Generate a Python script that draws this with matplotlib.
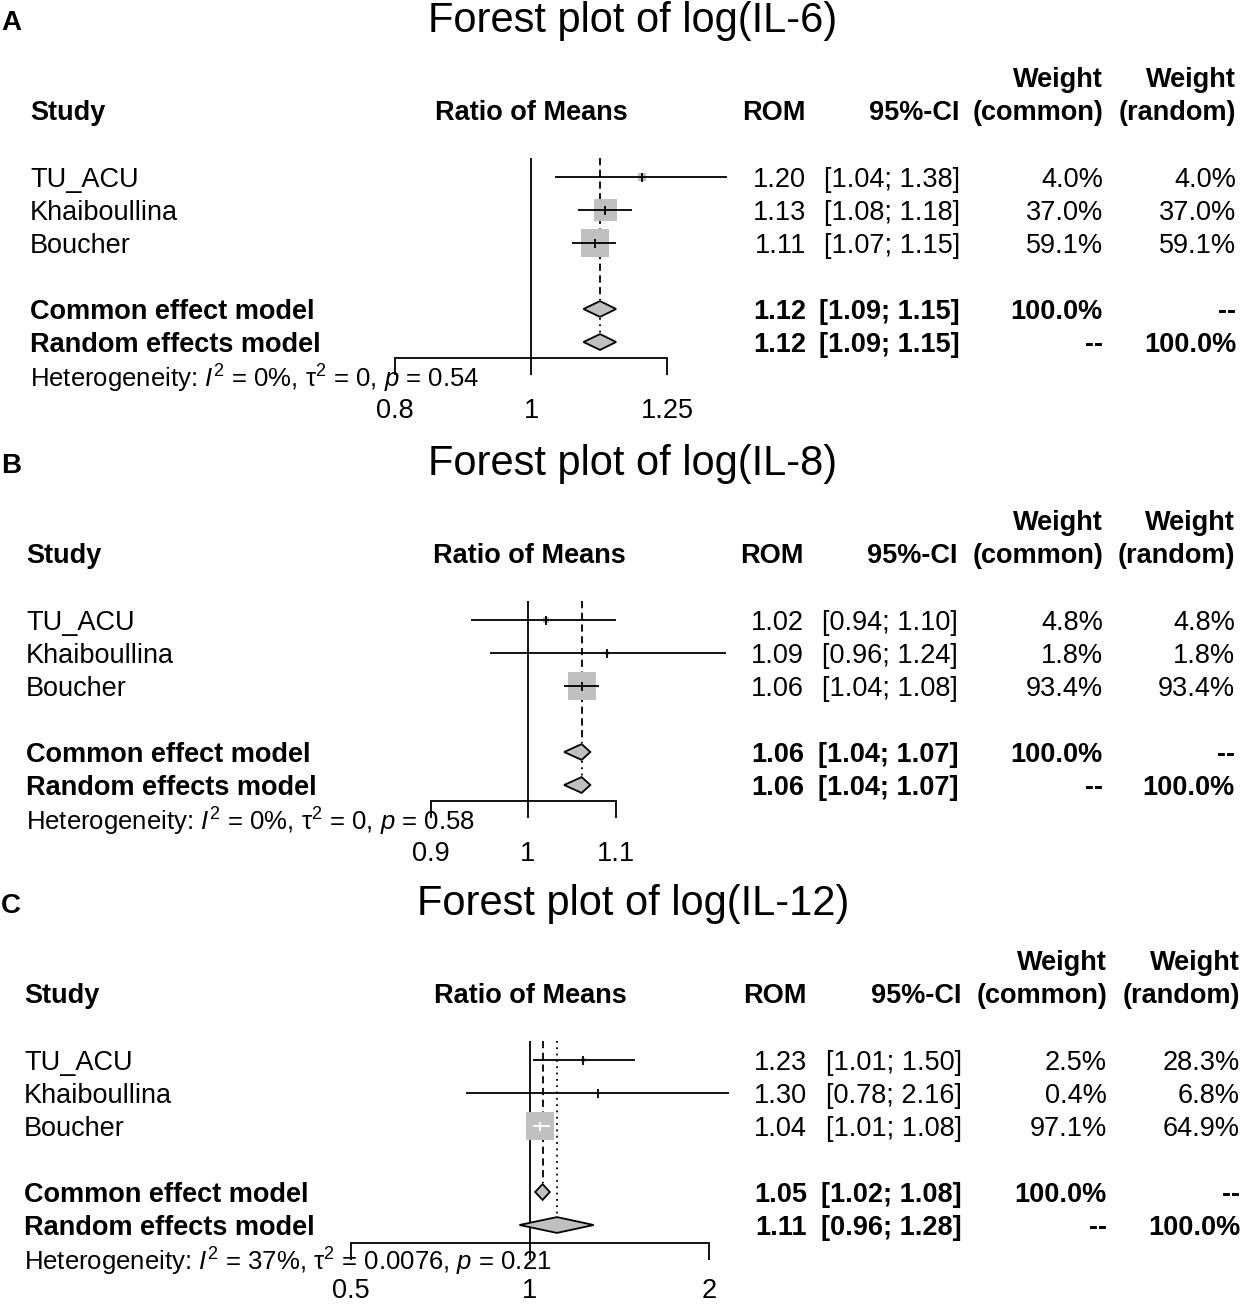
import numpy as np
import matplotlib.pyplot as plt
from matplotlib.patches import Polygon
from matplotlib.ticker import NullLocator

plt.rcParams['font.family'] = 'Liberation Sans'
plt.rcParams['mathtext.fontset'] = 'custom'
plt.rcParams['mathtext.rm'] = 'Liberation Sans'
plt.rcParams['mathtext.it'] = 'Liberation Sans:italic'
plt.rcParams['mathtext.bf'] = 'Liberation Sans:bold'

# ---- data ----
studies = ['TU_ACU', 'Khaiboullina', 'Boucher']

il6_rom = [1.20, 1.13, 1.11]
il6_lo = [1.04, 1.08, 1.07]
il6_hi = [1.38, 1.18, 1.15]
il6_wc = [4.0, 37.0, 59.1]
il6_wr = [4.0, 37.0, 59.1]
il6_common = [1.12, 1.09, 1.15]
il6_random = [1.12, 1.09, 1.15]
il6_het = ['0%', '0', '0.54']
il6_ticks = [0.8, 1, 1.25]

il8_rom = [1.02, 1.09, 1.06]
il8_lo = [0.94, 0.96, 1.04]
il8_hi = [1.10, 1.24, 1.08]
il8_wc = [4.8, 1.8, 93.4]
il8_wr = [4.8, 1.8, 93.4]
il8_common = [1.06, 1.04, 1.07]
il8_random = [1.06, 1.04, 1.07]
il8_het = ['0%', '0', '0.58']
il8_ticks = [0.9, 1, 1.1]

il12_rom = [1.23, 1.30, 1.04]
il12_lo = [1.01, 0.78, 1.01]
il12_hi = [1.50, 2.16, 1.08]
il12_wc = [2.5, 0.4, 97.1]
il12_wr = [28.3, 6.8, 64.9]
il12_common = [1.05, 1.02, 1.08]
il12_random = [1.11, 0.96, 1.28]
il12_het = ['37%', '0.0076', '0.21']
il12_ticks = [0.5, 1, 2]

# ---- layout (pixels) ----
W, H = 1241, 1305
PX = 0.72  # points per pixel at dpi 100
GREY = '#c0c0c0'
FS = 19.5
LW = 1.3

fig = plt.figure(figsize=(W / 100, H / 100), dpi=100)


def fx(px):
    return px / W


def fy(py):
    return 1 - py / H


def txt(x, y, s, ha='left', size=FS, weight='normal'):
    # y is the visual centre of the capitals
    cap = size / PX * 0.716
    fig.text(fx(x), fy(y + cap / 2), s, ha=ha, va='baseline',
             fontsize=size, fontweight=weight)


def fmt_ci(a, b):
    return f'[{a:.2f}; {b:.2f}]'


def panel(base, letter, title, rom, lo, hi, wc, wr, common, random, het,
          ticks, x_one, k, cols, r_bot, tick_pad=17):
    x_study, x_rom, x_ci, x_wc, x_wr, x_head = cols

    def yrow(r):
        return base + 177 + 33 * (r - 1)

    txt(1, base + 20, letter, size=20, weight='bold')
    txt(633, base + 17, title, ha='center', size=30)

    # headers
    txt(x_wc, base + 77, 'Weight', ha='right', weight='bold')
    txt(x_wr, base + 77, 'Weight', ha='right', weight='bold')
    txt(x_study, base + 110, 'Study', weight='bold')
    txt(x_head, base + 110, 'Ratio of Means', ha='center', weight='bold')
    txt(x_rom, base + 110, 'ROM', ha='right', weight='bold')
    txt(x_ci, base + 110, '95%-CI', ha='right', weight='bold')
    txt(x_wc, base + 110, '(common)', ha='right', weight='bold')
    txt(x_wr, base + 110, '(random)', ha='right', weight='bold')

    rows = [1, 2, 3]
    for i, r in enumerate(rows):
        yy = yrow(r)
        txt(x_study, yy, studies[i])
        txt(x_rom, yy, f'{rom[i]:.2f}', ha='right')
        txt(x_ci, yy, fmt_ci(lo[i], hi[i]), ha='right')
        txt(x_wc, yy, f'{wc[i]:.1f}%', ha='right')
        txt(x_wr, yy, f'{wr[i]:.1f}%', ha='right')

    for r, name, est, wcs, wrs in [(5, 'Common effect model', common, '100.0%', '--'),
                                   (6, 'Random effects model', random, '--', '100.0%')]:
        yy = yrow(r)
        txt(x_study, yy, name, weight='bold')
        txt(x_rom, yy, f'{est[0]:.2f}', ha='right', weight='bold')
        txt(x_ci, yy, fmt_ci(est[1], est[2]), ha='right', weight='bold')
        txt(x_wc, yy, wcs, ha='right', weight='bold')
        txt(x_wr, yy, wrs, ha='right', weight='bold')

    txt(x_study, yrow(7.1),
        r'Heterogeneity: $I^2$ = ' + het[0] +
        r', τ$^2$ = ' + het[1] + r', $p$ = ' + het[2], size=18.5)

    # forest axes
    ax_l, ax_r = 300, 745
    r_top = 0.42
    ax = fig.add_axes([fx(ax_l), fy(yrow(r_bot)), (ax_r - ax_l) / W,
                       (yrow(r_bot) - yrow(r_top)) / H])
    ax.set_xscale('log')
    ax.set_xlim(np.exp((ax_l - x_one) / k), np.exp((ax_r - x_one) / k))
    ax.set_ylim(r_bot, r_top)
    ax.patch.set_alpha(0)
    for s in ['top', 'left', 'right']:
        ax.spines[s].set_visible(False)
    ax.spines['bottom'].set_bounds(ticks[0], ticks[-1])
    ax.spines['bottom'].set_linewidth(LW)
    ax.set_xticks(ticks)
    ax.set_xticklabels([f'{t:g}' for t in ticks])
    ax.xaxis.set_minor_locator(NullLocator())
    ax.tick_params(axis='x', direction='out', length=17 * PX, width=LW,
                   pad=tick_pad, labelsize=FS)
    ax.set_yticks([])

    ax.axvline(1, color='black', lw=LW, zorder=1)
    # random-effects line (dotted); hidden under the dashed one when equal
    dot_top = 5 + 0.26 if random[0] == common[0] else r_top
    ax.plot([random[0]] * 2, [dot_top, 6 - 0.26], color='black', lw=LW,
            ls=(0, (1, 2.5)), zorder=1)
    ax.plot([common[0]] * 2, [r_top, 5 - 0.26], color='black', lw=LW,
            ls=(0, (4, 2.5)), zorder=1.1)

    wmax = max(wc)
    for i, r in enumerate(rows):
        side = 28 * np.sqrt(wc[i] / wmax)
        ci_px = k * (np.log(hi[i]) - np.log(lo[i]))
        c = 'white' if ci_px < side else 'black'
        ax.scatter([rom[i]], [r], marker='s', s=(side * PX) ** 2, color=GREY,
                   edgecolors='none', zorder=2, clip_on=False)
        ax.hlines(r, lo[i], hi[i], color=c, lw=LW, zorder=3, clip_on=False)
        ax.plot([rom[i]], [r], marker='|', ms=9 * PX, mew=LW, color=c,
                zorder=3, clip_on=False)

    for r, est in [(5, common), (6, random)]:
        h = 0.24
        d = Polygon([(est[1], r), (est[0], r - h), (est[2], r), (est[0], r + h)],
                    closed=True, facecolor=GREY, edgecolor='black', lw=LW,
                    zorder=4, clip_on=False)
        ax.add_patch(d)


panel(0, 'A', 'Forest plot of log(IL-6)', il6_rom, il6_lo, il6_hi, il6_wc,
      il6_wr, il6_common, il6_random, il6_het, il6_ticks,
      531, 609, (30, 806, 960, 1103, 1236, 531), 6.48)
panel(443, 'B', 'Forest plot of log(IL-8)', il8_rom, il8_lo, il8_hi, il8_wc,
      il8_wr, il8_common, il8_random, il8_het, il8_ticks,
      528, 921, (26, 804, 958, 1103, 1235, 529), 6.48)
panel(883, 'C', 'Forest plot of log(IL-12)', il12_rom, il12_lo, il12_hi, il12_wc,
      il12_wr, il12_common, il12_random, il12_het, il12_ticks,
      530, 258, (24, 807, 962, 1107, 1240, 530), 6.55, tick_pad=13)

fig.savefig('out.png', dpi=100)
